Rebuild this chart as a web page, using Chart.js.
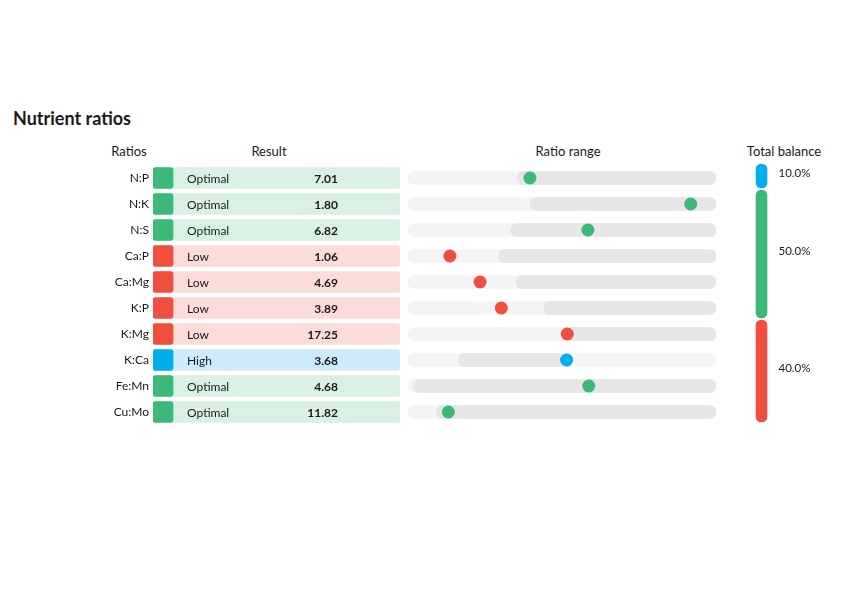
<!DOCTYPE html>
<html>
<head>
<meta charset="utf-8">
<script src="https://cdn.jsdelivr.net/npm/chart.js@4.4.1/dist/chart.umd.min.js"></script>
<style>
body { margin: 0; background: #fff; font-family: Lato, "Noto Sans", sans-serif; color: #1a1a1a; }
#page { position: relative; width: 850px; height: 590px; overflow: hidden; }
canvas, .txt { position: absolute; }
.title { left: 13px; top: 107px; font-size: 18px; font-weight: bold; }
.head { top: 143px; font-size: 13px; transform: translateX(-50%); white-space: nowrap; }
</style>
</head>
<body>
<div id="page">
  <div class="txt title">Nutrient ratios</div>
  <div class="txt head" style="left:129px">Ratios</div>
  <div class="txt head" style="left:269px">Result</div>
  <div class="txt head" style="left:568px">Ratio range</div>
  <div class="txt head" style="left:784px">Total balance</div>
  <canvas id="resultChart" width="300" height="260" style="left:100px;top:165px"></canvas>
  <canvas id="rangeChart" width="308" height="260" style="left:408px;top:165px"></canvas>
  <canvas id="balanceChart" width="115" height="260" style="left:735px;top:163px"></canvas>
</div>
<script>
// dữ liệu
const ratios = ['N:P', 'N:K', 'N:S', 'Ca:P', 'Ca:Mg', 'K:P', 'K:Mg', 'K:Ca', 'Fe:Mn', 'Cu:Mo'];
const status = ['Optimal', 'Optimal', 'Optimal', 'Low', 'Low', 'Low', 'Low', 'High', 'Optimal', 'Optimal'];
const results = [7.01, 1.80, 6.82, 1.06, 4.69, 3.89, 17.25, 3.68, 4.68, 11.82];

// vị trí trên thanh "Ratio range" (0-100)
const rangeStart = [35.4, 39.6, 33.3, 29.3, 35.1, 44.2, 51.5, 16.3, 1.7, 9.3];
const rangeEnd = [100, 100, 100, 100, 100, 100, 100, 51.5, 100, 100];
const dotPos = [39.6, 91.8, 58.4, 13.6, 23.4, 30.3, 51.7, 51.5, 58.7, 13.1];

// tổng cân bằng
const balanceLabels = ['High', 'Optimal', 'Low'];
const balancePct = [10, 50, 40];

const strong = { Optimal: '#3cb878', Low: '#ef4f3c', High: '#00aeef' };
const light = { Optimal: '#d9f1e4', Low: '#fbdcd9', High: '#cfebfa' };
const textColor = '#1a1a1a';
const fontFamily = 'Lato, "Noto Sans", sans-serif';

Chart.defaults.font.family = fontFamily;
Chart.defaults.animation = false;
Chart.defaults.layout.autoPadding = false;
Chart.defaults.plugins.legend.display = false;
Chart.defaults.plugins.tooltip.enabled = false;

// cột Result: ô màu + nền nhạt + chữ
const resultText = {
    id: 'resultText',
    afterDatasetsDraw(chart) {
        const ctx = chart.ctx;
        const left = chart.chartArea.left;
        ctx.save();
        ctx.fillStyle = textColor;
        ctx.textBaseline = 'middle';
        status.forEach((s, i) => {
            const y = chart.scales.y.getPixelForValue(i) + 1;
            ctx.font = '12px ' + fontFamily;
            ctx.textAlign = 'left';
            ctx.fillText(s, left + 34, y);
            ctx.font = 'bold 12px ' + fontFamily;
            ctx.textAlign = 'right';
            ctx.fillText(results[i].toFixed(2), left + 185, y);
        });
        ctx.restore();
    }
};

new Chart(document.getElementById('resultChart'), {
    type: 'bar',
    data: {
        labels: ratios,
        datasets: [{
            data: ratios.map(() => [0, 8.1]),
            backgroundColor: status.map(s => strong[s]),
            borderRadius: 3
        }, {
            data: ratios.map(() => [0, 100]),
            backgroundColor: status.map(s => light[s]),
            borderRadius: 3
        }]
    },
    options: {
        responsive: false,
        indexAxis: 'y',
        datasets: { bar: { grouped: false, barThickness: 21, borderSkipped: false } },
        layout: { padding: 0 },
        scales: {
            x: { type: 'linear', min: 0, max: 100, display: false },
            y: {
                afterFit: (scale) => {
                    scale.width = 53;
                    scale.paddingTop = 0;
                    scale.paddingBottom = 0;
                },
                grid: { display: false, drawTicks: false },
                border: { display: false },
                ticks: { padding: 4, color: textColor, font: { size: 12 } }
            }
        }
    },
    plugins: [resultText]
});

// cột Ratio range
new Chart(document.getElementById('rangeChart'), {
    type: 'bar',
    data: {
        labels: ratios,
        datasets: [{
            type: 'line',
            data: dotPos,
            showLine: false,
            pointRadius: 6.5,
            pointBorderWidth: 0,
            pointBackgroundColor: status.map(s => strong[s]),
            clip: false
        }, {
            data: rangeStart.map((v, i) => [v, rangeEnd[i]]),
            backgroundColor: '#e6e6e6'
        }, {
            data: ratios.map(() => [0, 100]),
            backgroundColor: '#f4f4f4'
        }]
    },
    options: {
        responsive: false,
        indexAxis: 'y',
        datasets: { bar: { grouped: false, barThickness: 13, borderRadius: 6.5, borderSkipped: false } },
        layout: { padding: 0 },
        scales: {
            x: { type: 'linear', min: 0, max: 100, display: false },
            y: { display: false }
        }
    }
});

// cột Total balance
const balanceText = {
    id: 'balanceText',
    afterDatasetsDraw(chart) {
        const ctx = chart.ctx;
        ctx.save();
        ctx.fillStyle = textColor;
        ctx.font = '11.5px ' + fontFamily;
        ctx.textBaseline = 'middle';
        ctx.textAlign = 'left';
        balancePct.forEach((v, i) => {
            const bar = chart.getDatasetMeta(i).data[0];
            const y = (bar.y + bar.base) / 2 - 3;
            ctx.fillText(v.toFixed(1) + '%', bar.x + 17, y);
        });
        ctx.restore();
    }
};

let cum = 0;
const balanceSets = balancePct.map((v, i) => {
    const start = cum;
    cum += v;
    return {
        data: [[start, cum]],
        backgroundColor: strong[balanceLabels[i]]
    };
});

new Chart(document.getElementById('balanceChart'), {
    type: 'bar',
    data: { labels: ['Total'], datasets: balanceSets },
    options: {
        responsive: false,
        datasets: {
            bar: { grouped: false, barThickness: 13, borderRadius: 7, borderSkipped: false, borderWidth: 1, borderColor: '#fff' }
        },
        layout: { padding: { left: 0, right: 62, top: 0, bottom: 0 } },
        scales: {
            x: { display: false },
            y: { type: 'linear', min: 0, max: 100, reverse: true, display: false }
        }
    },
    plugins: [balanceText]
});
</script>
</body>
</html>
